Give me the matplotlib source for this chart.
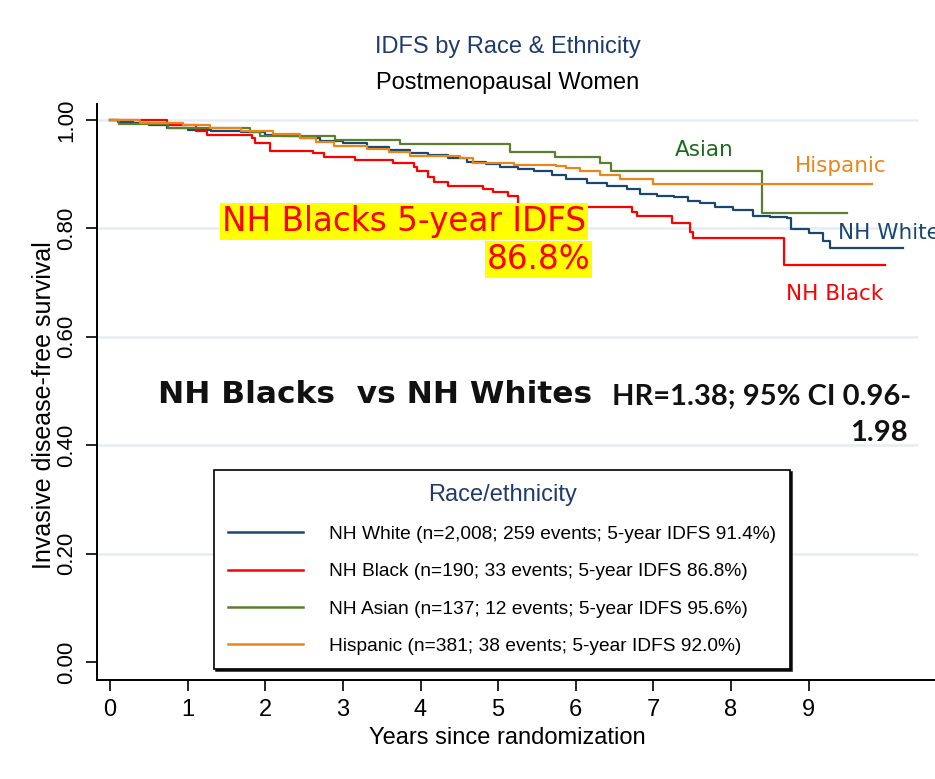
import numpy as np
import matplotlib
matplotlib.use("Agg")
import matplotlib.pyplot as plt

plt.rcParams['font.family'] = ['Liberation Sans', 'DejaVu Sans']

# Kaplan-Meier step estimates (years since randomization, IDFS)
white_t = [0, 0.1, 0.3, 0.5, 0.73, 1.0, 1.3, 1.68, 2.0, 2.2, 2.45, 2.7, 3.0, 3.31,
           3.6, 3.87, 4.1, 4.35, 4.6, 4.85, 5.03, 5.25, 5.46, 5.7, 5.88, 6.14, 6.4,
           6.66, 6.83, 7.05, 7.26, 7.45, 7.6, 7.8, 8.03, 8.29, 8.5, 8.72, 8.78, 9.0,
           9.19, 9.28, 10.22]
white_s = [1.000, 0.997, 0.994, 0.990, 0.985, 0.982, 0.980, 0.977, 0.973, 0.970,
           0.966, 0.962, 0.957, 0.951, 0.945, 0.939, 0.935, 0.929, 0.923, 0.918,
           0.914, 0.910, 0.905, 0.898, 0.892, 0.884, 0.878, 0.872, 0.863, 0.860,
           0.857, 0.851, 0.846, 0.840, 0.834, 0.823, 0.821, 0.819, 0.798, 0.791,
           0.776, 0.763, 0.763]

black_t = [0, 0.73, 1.10, 1.25, 1.83, 1.87, 2.06, 2.62, 2.75, 3.16, 3.65, 3.91, 3.95,
           4.10, 4.17, 4.36, 4.81, 4.94, 5.13, 5.26, 6.72, 6.79, 7.24,
           7.47, 7.51, 8.68, 9.99]
black_s = [1.000, 0.990, 0.980, 0.973, 0.966, 0.957, 0.943, 0.939, 0.932, 0.926,
           0.920, 0.914, 0.905, 0.895, 0.886, 0.878, 0.873, 0.867, 0.859, 0.839,
           0.831, 0.822, 0.809, 0.794, 0.782, 0.732, 0.732]

asian_t = [0, 0.11, 0.75, 1.80, 1.93, 2.90, 3.74, 5.15, 5.73, 6.31, 6.46, 8.40, 9.49]
asian_s = [1.000, 0.993, 0.985, 0.978, 0.971, 0.963, 0.956, 0.940, 0.931, 0.920,
           0.905, 0.829, 0.829]

hisp_t = [0, 0.39, 0.94, 1.29, 1.68, 2.10, 2.45, 2.65, 2.88, 3.31, 3.6, 3.87, 4.51,
          4.68, 5.2, 5.75, 5.88, 6.06, 6.31, 6.57, 7.00, 9.82]
hisp_s = [1.000, 0.995, 0.991, 0.985, 0.980, 0.975, 0.966, 0.960, 0.952, 0.946,
          0.940, 0.934, 0.929, 0.921, 0.917, 0.915, 0.911, 0.906, 0.898, 0.892,
          0.881, 0.881]

legend_labels = [
    "NH White (n=2,008; 259 events; 5-year IDFS 91.4%)",
    "NH Black (n=190; 33 events; 5-year IDFS 86.8%)",
    "NH Asian (n=137; 12 events; 5-year IDFS 95.6%)",
    "Hispanic (n=381; 38 events; 5-year IDFS 92.0%)",
]
x_ticks = list(range(10))
y_ticks = [0.0, 0.2, 0.4, 0.6, 0.8, 1.0]

navy = '#1A476F'
red = '#FF0000'
olive = '#5B7F2E'
orange = '#E8861A'
title_blue = '#1F3B6E'

fig = plt.figure(figsize=(9.35, 7.79), dpi=100)
ax = fig.add_axes([0.1037, 0.1271, 0.8963, 0.7398])
ax.set_xlim(-0.17, 10.63)
ax.set_ylim(-0.033, 1.03)

# light horizontal grid
ax.hlines(y_ticks[1:], -0.17, 10.41, color='#E6EDF2', lw=1.8, zorder=0)

curves = [(white_t, white_s, navy), (black_t, black_s, red),
          (asian_t, asian_s, olive), (hisp_t, hisp_s, orange)]
handles = []
for (t, s, c), lab in zip(curves, legend_labels):
    h, = ax.step(t, s, where='post', color=c, lw=1.6, label=lab, zorder=2)
    handles.append(h)

for sp in ['top', 'right']:
    ax.spines[sp].set_visible(False)
for sp in ['left', 'bottom']:
    ax.spines[sp].set_linewidth(1.4)

ax.set_xticks(x_ticks)
ax.set_xticklabels([str(v) for v in x_ticks], fontsize=17)
ax.set_yticks(y_ticks)
ax.set_yticklabels([f"{v:.2f}" for v in y_ticks], fontsize=16, rotation=90, va='center')
ax.tick_params(axis='both', length=8, width=1.2, pad=6)

fig.text(0.543, 0.9397, "IDFS by Race & Ethnicity", color=title_blue, fontsize=17,
         ha='center', va='center')
fig.text(0.543, 0.8935, "Postmenopausal Women", color='black', fontsize=17,
         ha='center', va='center')
fig.text(0.543, 0.0526, "Years since randomization", fontsize=17, ha='center', va='center')
fig.text(0.047, 0.48, "Invasive disease-free survival", fontsize=18, rotation=90,
         ha='center', va='center')

# curve labels
ax.text(7.65, 0.945, "Asian", color='#1C6B1C', fontsize=15.5, family='DejaVu Sans',
        ha='center', va='center')
ax.text(9.41, 0.915, "Hispanic", color=orange, fontsize=15.5, family='DejaVu Sans',
        ha='center', va='center')
ax.text(9.38, 0.792, "NH White", color=navy, fontsize=15.5, family='DejaVu Sans',
        ha='left', va='center')
ax.text(9.34, 0.679, "NH Black", color=red, fontsize=15.5, family='DejaVu Sans',
        ha='center', va='center')

# 5-year callout for NH Blacks
box = dict(facecolor='#FFFF00', edgecolor='none', pad=1.5)
ax.text(1.44, 0.812, "NH Blacks 5-year IDFS", color=red, fontsize=23.5,
        family='DejaVu Sans', ha='left', va='center',
        bbox=dict(boxstyle='square,pad=0.06', facecolor='#FFFF00', edgecolor='none'),
        zorder=5)
ax.text(6.19, 0.742, "86.8%", color=red, fontsize=23.5, family='DejaVu Sans',
        ha='right', va='center', bbox=box, zorder=5)

# hazard ratio statement
ax.text(0.62, 0.493, "NH Blacks  vs NH Whites", fontsize=22.5, fontweight='bold',
        family='DejaVu Sans', ha='left', va='center', color='#111111')
ax.text(6.47, 0.489, "HR=1.38; 95% CI 0.96-", fontsize=21, fontweight='bold',
        fontstyle='normal', family='Lato', ha='left', va='center', color='#111111')
ax.text(10.28, 0.4225, "1.98", fontsize=21, fontweight='bold', fontstyle='normal',
        family='Lato', ha='right', va='center', color='#111111')

leg = ax.legend(handles=handles, loc='upper left',
                bbox_to_anchor=(214 / 935, 1 - 470 / 779),
                bbox_transform=fig.transFigure, borderaxespad=0,
                title="Race/ethnicity", title_fontsize=17, fontsize=13.8,
                handlelength=3.9, handletextpad=1.4, labelspacing=1.04,
                borderpad=0.72, fancybox=False, framealpha=1,
                shadow={'color': 'black', 'alpha': 0.85, 'ox': 1.5, 'oy': -1.5})
leg.get_frame().set_edgecolor('black')
leg.get_frame().set_linewidth(1.2)
leg.get_title().set_color(title_blue)
for line in leg.get_lines():
    line.set_linewidth(1.8)

fig.savefig("out.png", dpi=100)
